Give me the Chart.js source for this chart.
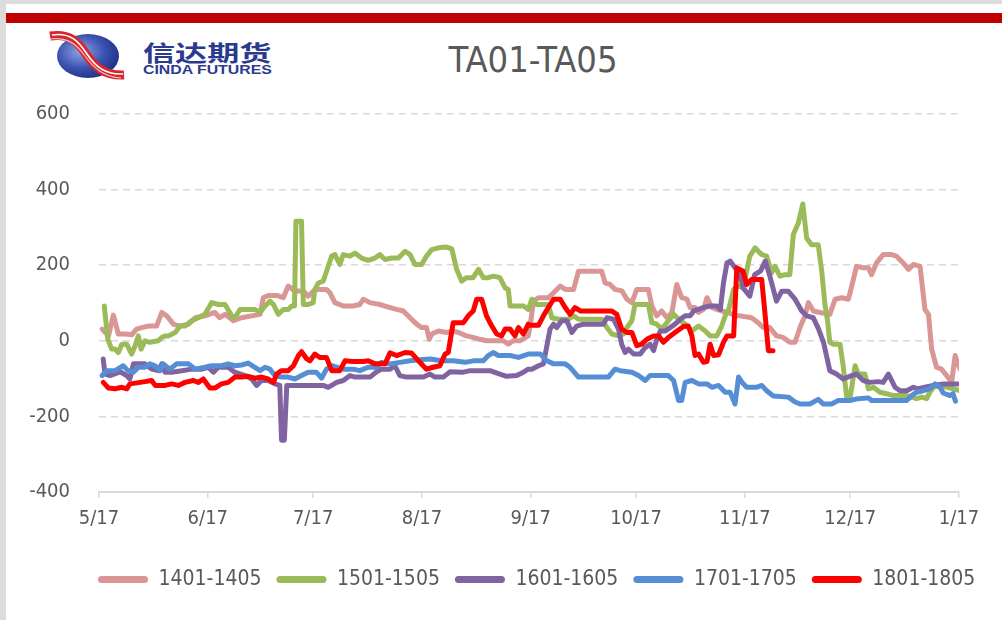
<!DOCTYPE html>
<html>
<head>
<meta charset="utf-8">
<script src="https://cdn.jsdelivr.net/npm/chart.js@4.4.1/dist/chart.umd.min.js"></script>
<style>
  html, body { margin: 0; padding: 0; background: #fff; overflow: hidden; }
  body { width: 1002px; height: 620px; position: relative; }
  .top-strip { position: absolute; left: 0; top: 0; width: 1002px; height: 4px; background: #dcdcdc; }
  .left-strip { position: absolute; left: 0; top: 0; width: 6px; height: 620px; background: #dcdcdc; }
  .red-bar { position: absolute; left: 6px; top: 13px; right: 0; height: 10px; background: #c00000; }
  .logo { position: absolute; left: 0; top: 0; }
  .logo-cn { position: absolute; left: 143px; top: 40px; font: bold 22px/22px "Noto Sans CJK SC", sans-serif;
             color: #2b3a8e; transform: scaleX(1.46); transform-origin: left top; white-space: nowrap; }
  .logo-en { position: absolute; left: 143px; top: 64px; font: bold 12px/12px "Liberation Sans", Arial, sans-serif;
             color: #2b3a8e; transform: scaleX(1.32); transform-origin: left top; white-space: nowrap; }
  .title { position: absolute; left: 0; width: 1066px; top: 38px; text-align: center;
           font: 36px/44px "DejaVu Sans Condensed", sans-serif; color: #595959; }
  #chartBox { position: absolute; left: 0; top: 91px; width: 1002px; height: 529px; }
</style>
</head>
<body>
<div class="top-strip"></div>
<div class="left-strip"></div>
<div class="red-bar"></div>
<svg class="logo" width="140" height="90" viewBox="0 0 140 90">
  <defs>
    <radialGradient id="ball" cx="0.38" cy="0.4" r="0.7">
      <stop offset="0" stop-color="#8fa3e6"/>
      <stop offset="0.55" stop-color="#3a52b0"/>
      <stop offset="1" stop-color="#1b2a80"/>
    </radialGradient>
  </defs>
  <ellipse cx="88" cy="56" rx="31" ry="22" fill="url(#ball)"/>
  <path d="M50,36 C70,33 78,42 86,54 S104,76 124,75" fill="none" stroke="#d9262c" stroke-width="9"/>
  <path d="M52,35 C71,32 79,42 87,54 S105,75 123,74" fill="none" stroke="#ffffff" stroke-width="1.6"/>
  <path d="M50,39 C69,37 77,45 85,56 S103,77 121,78" fill="none" stroke="#ffffff" stroke-width="1.2" opacity="0.7"/>
</svg>
<div class="logo-cn">信达期货</div>
<div class="logo-en">CINDA FUTURES</div>
<div class="title">TA01-TA05</div>
<div id="chartBox"><canvas id="spreadChart"></canvas></div>

<script>
// days counted from 5/17, values in yuan
const monthDays = [0, 31, 61, 92, 123, 153, 184, 214, 245];
const monthLabels = ["5/17", "6/17", "7/17", "8/17", "9/17", "10/17", "11/17", "12/17", "1/17"];
const seriesNames = ["1401-1405", "1501-1505", "1601-1605", "1701-1705", "1801-1805"];
const seriesColors = ["#D99694", "#9BBB59", "#8064A2", "#558ED5", "#FF0000"];

const s1401 = [[0.9,31],[2.7,13],[4.1,68],[5.5,18],[7.5,18],[9.3,16],[10.7,31],[12.2,35],[14.1,39],[16.4,39],[17.9,75],[19.3,66],[21.2,44],[23.1,39],[25.5,44],[27.4,61],[30.2,66],[33,75],[34.4,61],[35.9,70],[38.3,53],[40.6,61],[43.5,66],[45.9,70],[46.8,114],[48.2,120],[50.6,120],[52.5,114],[53.9,145],[55.8,132],[58.2,132],[59.6,118],[61.1,132],[62,136],[64.8,136],[65.8,127],[67.2,101],[69.6,92],[72.4,92],[74.3,96],[75.3,110],[77.2,101],[80,96],[82.9,88],[84.8,83],[86.7,79],[88.6,61],[90.5,44],[91.9,35],[93.3,35],[94.1,4],[94.8,18],[96.7,26],[99,22],[100.9,26],[102.4,22],[104.7,13],[106.6,9],[108.5,4],[110.4,0],[113.3,0],[115.2,0],[116.6,-9],[118,0],[119.9,0],[122.3,13],[122.8,39],[123.8,105],[125.2,114],[128,114],[129.5,127],[131.4,145],[132.8,136],[135.2,136],[136.6,184],[138.5,184],[143.2,184],[144.2,153],[145.6,149],[147,136],[149,132],[150.4,110],[151.8,101],[153.2,136],[156.5,136],[157.5,92],[158.9,66],[160.3,79],[161.8,61],[163.2,75],[164.6,149],[166,114],[167.5,110],[168.4,88],[169.8,88],[170.8,75],[172.2,83],[173.2,114],[174.6,88],[176,83],[177.4,79],[179.3,75],[181.2,66],[182.6,66],[185.9,61],[187.8,48],[189.2,35],[191.1,35],[193,13],[194.9,9],[196.8,-4],[198.3,-4],[199.7,35],[201.1,66],[202.1,101],[203.5,79],[205.4,75],[208.2,70],[209.7,110],[211.6,114],[213.5,110],[214.9,162],[215.8,197],[217.7,193],[219.2,193],[220.1,175],[221.5,206],[223.4,228],[225.8,228],[227.2,224],[229.1,206],[230.6,189],[232,202],[233.9,197],[235.3,83],[236.3,70],[237.2,-22],[238.6,-70],[240,-75],[241.5,-92],[242.9,-110],[243.9,-39],[244.7,-61],[245.3,-75]];

const s1501 = [[1.5,92],[2.5,4],[3.6,-22],[4.6,-22],[5.5,-31],[6.5,-9],[7.9,-9],[9.3,-35],[10.3,-13],[11.2,13],[12,-22],[13.1,0],[14.5,-4],[16.9,0],[17.9,9],[18.8,13],[19.8,13],[21.7,22],[23.1,39],[24.5,39],[26.4,53],[28.3,61],[30.2,70],[32.1,101],[34,96],[35.9,96],[37.8,66],[38.7,61],[40.2,83],[42.5,83],[44.4,83],[45.9,75],[47.3,92],[48.7,105],[49.7,96],[51.1,70],[52.5,83],[53.9,83],[54.9,92],[55.7,92],[56.1,316],[57.7,316],[58.2,96],[59.6,96],[61,101],[61.5,136],[62.5,153],[63.9,158],[65.3,197],[66.3,224],[67.2,228],[68.6,202],[69.6,228],[71.5,224],[72.9,232],[74.8,219],[76.7,213],[78.6,219],[80,228],[81.5,215],[83.4,219],[85.3,219],[87.2,237],[88.6,228],[90,202],[91.9,202],[93.3,224],[94.8,241],[96.7,246],[99,248],[100.5,243],[101.9,189],[103.3,158],[104.7,167],[106.6,167],[108.1,189],[109.5,167],[110.9,167],[112.3,171],[114.2,167],[115.7,140],[116.6,136],[117.1,92],[119,92],[120.9,92],[122.3,83],[123.3,110],[124.7,96],[128,96],[129,61],[130.9,57],[133.7,57],[135.2,66],[136.6,57],[143.2,57],[144.7,35],[146.1,18],[148,13],[149.4,18],[150.4,35],[151.8,53],[152.7,96],[156.5,96],[157.5,48],[158.9,44],[160.3,31],[162.2,53],[163.7,70],[165.6,53],[167,44],[168.9,26],[170.8,39],[172.7,26],[174.1,13],[176,13],[177.4,39],[178.4,66],[179.4,83],[180.8,136],[182.2,145],[183.5,140],[185.4,224],[186.9,246],[187.8,237],[188.8,228],[190.2,224],[191.6,180],[192.6,197],[194,171],[195.4,175],[196.8,175],[197.8,281],[199.2,311],[200.5,362],[201.6,272],[203,254],[204.9,254],[205.9,184],[206.8,96],[207.5,57],[208.2,-4],[209.2,-9],[211.1,-9],[212,-66],[213,-149],[214,-149],[215.4,-66],[216.3,-88],[218.2,-88],[219.2,-127],[220.6,-123],[222.5,-136],[224.4,-140],[226.3,-145],[230.1,-145],[232.9,-153],[234.4,-149],[235.8,-153],[236.7,-136],[237.7,-123],[239.6,-118],[241.5,-123],[243.4,-127],[245.3,-132]];

const s1601 = [[1.2,-48],[1.7,-88],[3.1,-92],[6,-82],[7.9,-92],[8.8,-101],[9.8,-61],[13.1,-61],[15,-75],[16.9,-79],[17.9,-61],[18.8,-83],[20.7,-83],[23.6,-79],[26.4,-75],[29.3,-75],[31.1,-70],[32.6,-83],[34,-70],[36.8,-70],[38.7,-83],[41.6,-92],[43.5,-101],[44.9,-118],[46.3,-105],[48.2,-105],[50.1,-114],[51.5,-118],[52,-263],[52.8,-263],[53.5,-118],[55.8,-118],[61.1,-118],[63.9,-118],[65.3,-123],[67.7,-110],[69.6,-105],[71.5,-92],[72.9,-96],[75.3,-96],[77.2,-96],[79.1,-82],[80.5,-75],[82.9,-75],[84.3,-66],[85.7,-92],[87.6,-96],[92.4,-96],[94.3,-88],[95.7,-96],[98.1,-96],[100,-82],[103.8,-83],[105.7,-79],[111.4,-79],[114.2,-88],[116.1,-94],[119,-92],[120.9,-83],[122.3,-75],[123.3,-75],[125.2,-66],[126.6,-61],[127.6,-13],[128.5,31],[129.5,44],[130.4,35],[131.8,53],[133.3,53],[134.7,22],[136.1,39],[138,44],[143.7,44],[144.7,61],[146.6,57],[148,31],[148.9,-9],[149.9,-31],[150.8,-22],[152.3,-35],[154.2,-35],[155.6,-18],[157,-9],[158,-26],[158.9,4],[159.9,26],[161.3,26],[162.7,35],[164.1,44],[165.6,57],[167,66],[168.4,66],[169.4,79],[170.8,83],[172.2,88],[174.1,92],[176,92],[177,83],[177.9,153],[178.9,206],[179.8,211],[181.2,193],[182.4,185],[183.5,140],[185.4,118],[186.8,175],[188.5,185],[189.8,211],[191,175],[193,105],[194.5,131],[196.4,131],[198.3,110],[200.2,79],[201.6,66],[203.5,61],[205,31],[206.4,-4],[208.2,-79],[210.1,-88],[212,-101],[214.4,-92],[215.8,-88],[217.7,-105],[219.6,-110],[222,-108],[223.4,-110],[224.9,-88],[226.8,-123],[228.2,-132],[230.1,-132],[232,-123],[233.4,-127],[235.3,-123],[237.7,-118],[240.5,-114],[245.3,-114]];

const s1701 = [[0.9,-92],[2.2,-79],[4.6,-79],[6.9,-66],[8.3,-79],[9.8,-83],[11.2,-70],[13.1,-70],[14.5,-61],[16,-66],[17.4,-79],[18.3,-61],[20.2,-75],[22.1,-61],[25.5,-61],[27.4,-75],[30.2,-70],[32.1,-66],[34.9,-66],[36.8,-61],[38.7,-66],[40.6,-64],[42.5,-59],[44.4,-70],[45.9,-79],[47.3,-70],[48.7,-75],[50.1,-92],[52,-96],[53.9,-96],[55.8,-101],[57.7,-92],[59.6,-83],[61.9,-83],[63.4,-99],[64.8,-75],[66.3,-66],[69.6,-75],[72.4,-75],[74.3,-79],[76.7,-70],[79.1,-70],[80.5,-57],[82.9,-61],[85.7,-57],[88.6,-53],[91.4,-50],[94.3,-48],[97.6,-53],[100.9,-53],[104.3,-57],[106.6,-53],[109.5,-53],[110.9,-39],[112.3,-31],[113.8,-39],[117.1,-39],[119.5,-44],[122.3,-35],[125.7,-35],[127.6,-53],[129.5,-61],[132.8,-61],[134.2,-70],[136.6,-96],[140.4,-96],[145.1,-96],[147,-75],[148.5,-79],[151.8,-83],[153.7,-92],[155.6,-105],[157,-92],[162.2,-92],[163.7,-105],[165.1,-158],[166,-158],[167,-110],[168.9,-105],[170.8,-114],[173.2,-114],[174.6,-123],[176.5,-118],[178.4,-136],[179.8,-136],[181.2,-167],[182.2,-96],[183.2,-110],[184.5,-123],[187.3,-123],[188.8,-118],[190.2,-132],[192.1,-146],[196.4,-149],[198.3,-162],[199.7,-167],[202.5,-167],[204.9,-155],[206.3,-167],[208.7,-167],[210.6,-158],[213.9,-158],[216.3,-153],[219.2,-151],[220.1,-158],[230.1,-158],[231.5,-145],[232.9,-136],[234.8,-132],[236.7,-127],[238.2,-114],[239.6,-123],[240.5,-138],[242.4,-145],[243.3,-140],[244,-160]];

const s1801 = [[1.2,-110],[2.7,-125],[4.6,-127],[6.5,-123],[7.9,-127],[8.8,-114],[10.3,-112],[13.1,-108],[15,-105],[16,-118],[18.8,-118],[20.7,-114],[22.6,-118],[24.5,-110],[26.9,-105],[28.3,-110],[29.7,-101],[31.6,-125],[33,-125],[34.9,-114],[36.8,-110],[38.7,-96],[40.6,-96],[42.5,-94],[44.4,-99],[46.3,-96],[48.2,-101],[49.7,-110],[50.6,-88],[52,-79],[53.9,-79],[55.4,-66],[56.8,-39],[57.7,-29],[59.2,-48],[60.1,-53],[61.5,-35],[62.9,-44],[64.8,-44],[66.3,-79],[68.6,-79],[70.1,-53],[72.4,-55],[75.3,-55],[76.7,-53],[78.6,-61],[81.5,-61],[82.9,-32],[84.8,-39],[87.2,-31],[89,-32],[91.4,-57],[93.3,-75],[95.2,-70],[97.1,-66],[98.6,-35],[99.5,-31],[100.9,48],[102.4,48],[103.8,48],[105.2,66],[106.6,79],[107.6,110],[109,110],[110.4,66],[111.9,39],[113.3,18],[114.7,13],[115.7,31],[117.1,31],[118.5,13],[119.5,35],[120.9,18],[122.3,44],[122.8,41],[125.2,41],[126.6,66],[128,88],[129.5,110],[131.4,110],[132.8,88],[134.2,70],[135.6,88],[137.1,79],[140.4,79],[146.1,79],[147.5,70],[148.9,31],[150.4,22],[151.8,22],[153.2,-13],[154.6,-9],[156.1,4],[158,13],[159.4,13],[160.8,-4],[162.2,9],[164.1,22],[166.5,38],[167.9,39],[168.9,13],[169.8,-39],[170.8,-35],[172.2,-57],[173.2,-55],[174.1,-9],[175.1,-39],[176.5,-37],[177.9,-4],[178.9,13],[180.8,13],[181.7,193],[182.7,188],[183.5,184],[184.5,149],[185.9,162],[188.8,162],[189.7,75],[190.7,-26],[192,-26]];

const allSeries = [s1401, s1501, s1601, s1701, s1801];
const yMin = -400, yMax = 600, yStep = 200;

const FONT = "'DejaVu Sans Condensed', sans-serif";
const GRID = "#d9d9d9";
const TEXT = "#595959";

// move the legend row so that it sits where the original one does
const legendShift = {
  id: "legendShift",
  afterLayout(chart) {
    const lg = chart.legend;
    if (!lg || !lg.lineWidths) return;
    const pad = lg.options.labels.padding;
    const start = (lg.left + pad + lg.right - lg.lineWidths[0]) / 2;
    const dx = 98 - start;
    lg.left += dx;
    lg.right += dx;
  },
};

const ctx = document.getElementById("spreadChart").getContext("2d");
new Chart(ctx, {
  type: "line",
  data: {
    datasets: allSeries.map((pts, i) => ({
      label: seriesNames[i],
      data: pts.map(([x, y]) => ({ x, y })),
      borderColor: seriesColors[i],
      backgroundColor: seriesColors[i],
      borderWidth: 5,
      borderJoinStyle: "round",
      borderCapStyle: "round",
      pointRadius: 0,
      tension: 0,
      order: allSeries.length - i,
    })),
  },
  options: {
    responsive: true,
    maintainAspectRatio: false,
    animation: false,
    layout: { padding: { left: 0, right: 43, top: 23, bottom: 20 } },
    plugins: {
      title: { display: false },
      tooltip: { enabled: false },
      legend: {
        position: "bottom",
        labels: {
          boxWidth: 50,
          boxHeight: 7,
          padding: 15,
          color: TEXT,
          font: { family: FONT, size: 21 },
          useBorderRadius: true,
          borderRadius: 3.5,
          sort: (a, b) => a.datasetIndex - b.datasetIndex,
          generateLabels: (c) =>
            Chart.defaults.plugins.legend.labels
              .generateLabels(c)
              .map((l) => ({ ...l, lineWidth: 0, fillStyle: l.strokeStyle })),
        },
      },
    },
    scales: {
      x: {
        type: "linear",
        min: monthDays[0],
        max: monthDays[monthDays.length - 1],
        afterBuildTicks: (scale) => {
          scale.ticks = monthDays.map((v) => ({ value: v }));
        },
        afterFit: (scale) => {
          scale.height = 62;
        },
        ticks: {
          autoSkip: false,
          maxRotation: 0,
          padding: 9,
          color: TEXT,
          font: { family: FONT, size: 20 },
          callback: (v, i) => monthLabels[i],
        },
        grid: {
          drawOnChartArea: false,
          drawTicks: true,
          tickLength: 6,
          color: GRID,
          lineWidth: 1.5,
        },
        border: { display: true, color: GRID, width: 2 },
      },
      y: {
        min: yMin,
        max: yMax,
        afterFit: (scale) => {
          scale.width = 99;
          // labels sit 29px left of the plot, don't let that padding push the plot down
          scale.paddingTop = 0;
          scale.paddingBottom = 0;
        },
        ticks: {
          stepSize: yStep,
          padding: 29,
          color: TEXT,
          font: { family: FONT, size: 20 },
          callback: (v) => String(v),
        },
        grid: {
          drawTicks: false,
          lineWidth: 1.5,
          color: (c) => (c.tick && c.tick.value === yMin ? "rgba(0,0,0,0)" : GRID),
        },
        border: { display: false, dash: [7, 5] },
      },
    },
  },
  plugins: [legendShift],
});
</script>
</body>
</html>
